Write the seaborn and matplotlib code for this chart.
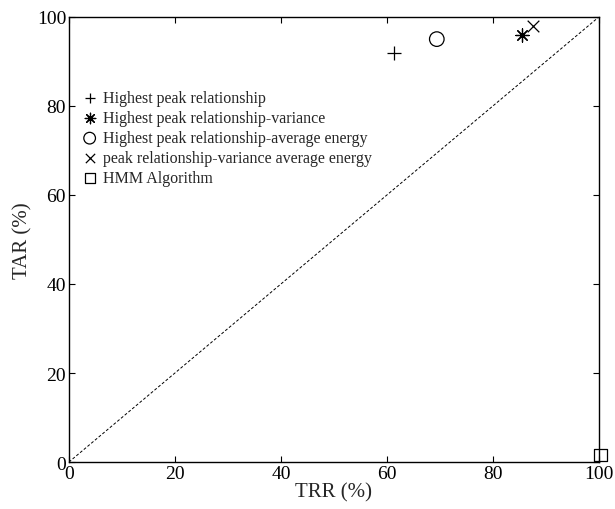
import matplotlib
matplotlib.use("Agg")
import matplotlib.pyplot as plt
import seaborn as sns
import pandas as pd

series_names = [
    "Highest peak relationship",
    "Highest peak relationship-variance",
    "Highest peak relationship-average energy",
    "peak relationship-variance average energy",
    "HMM Algorithm",
]
trr_values = [61.3, 85.5, 69.4, 87.5, 100.3]
tar_values = [91.8, 96.0, 95.0, 98.0, 1.6]
x_ticks = [0, 20, 40, 60, 80, 100]
y_ticks = [0, 20, 40, 60, 80, 100]

sns.set_theme(style="ticks")
plt.rcParams["font.family"] = ["Liberation Serif", "DejaVu Serif"]

fig = plt.figure(figsize=(6.15, 5.1), dpi=100)
ax = fig.add_axes([0.112, 0.092, 0.862, 0.873])

markers = ["+", (8, 2, 0), "o", "x", "s"]
sizes = [90, 90, 110, 70, 80]
filled = [False, False, True, False, True]

for name, xv, yv, m, s, f in zip(series_names, trr_values, tar_values, markers, sizes, filled):
    df = pd.DataFrame({"TRR": [xv], "TAR": [yv]})
    if f:
        sns.scatterplot(data=df, x="TRR", y="TAR", marker=m, s=s, ax=ax,
                        facecolor="none", edgecolor="black", linewidth=0.9,
                        label=name, clip_on=False, zorder=3)
    else:
        sns.scatterplot(data=df, x="TRR", y="TAR", marker=m, s=s, ax=ax,
                        color="black", linewidth=0.9, label=name,
                        clip_on=False, zorder=3)

ax.plot([0, 100], [0, 100], color="black", linestyle=(0, (3, 2)), linewidth=0.7)

ax.set_xlim(0, 100)
ax.set_ylim(0, 100)
ax.set_xticks(x_ticks)
ax.set_yticks(y_ticks)
ax.set_xlabel("TRR (%)", fontsize=15, labelpad=0)
ax.set_ylabel("TAR (%)", fontsize=15, labelpad=3)
ax.tick_params(direction="in", top=True, right=True, labelsize=14,
               length=4, width=0.8, colors="black", pad=2)
for sp in ax.spines.values():
    sp.set_visible(True)
    sp.set_color("black")
    sp.set_linewidth(1.0)

leg = ax.legend(loc="upper left", bbox_to_anchor=(0.0, 0.86), frameon=False,
                fontsize=11.5, handletextpad=0.25, labelspacing=0.25,
                handlelength=1.2, borderaxespad=0.3, markerscale=0.8)

fig.savefig("out.png", dpi=100)
